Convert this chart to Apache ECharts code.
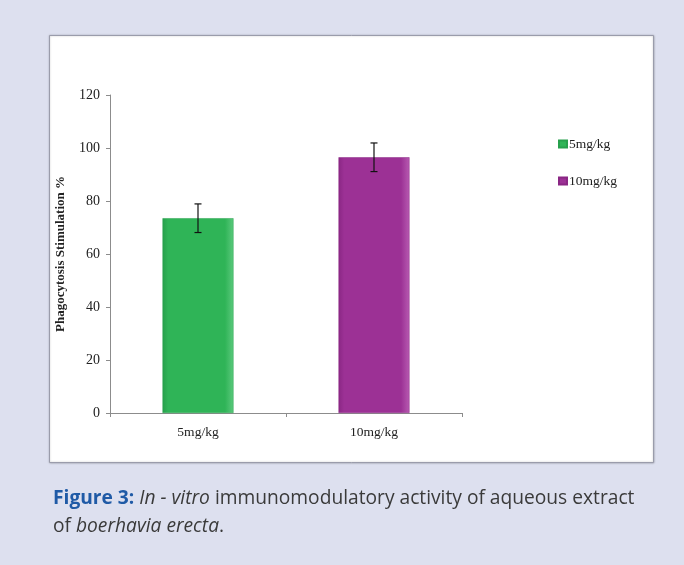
<!DOCTYPE html>
<html>
<head>
<meta charset="utf-8">
<script src="https://cdn.jsdelivr.net/npm/echarts@6/dist/echarts.min.js"></script>
<style>
  html, body { margin: 0; padding: 0; background: #dde0ef; }
  #chart { width: 684px; height: 565px; }
</style>
</head>
<body>
<div id="chart"></div>
<script>
var categories = ['5mg/kg', '10mg/kg'];
var means = [73.5, 96.5];
var errors = [5.4, 5.4];
var yTicks = { min: 0, max: 120, interval: 20 };

var barColors = [
  { edge: '#27a04c', main: '#2fb457', light: '#5cc97d' },
  { edge: '#8a2784', main: '#9c3195', light: '#b75bb1' }
];

var chart = echarts.init(document.getElementById('chart'));

var serif = '"Liberation Serif", "DejaVu Serif", serif';
var sans = '"Open Sans", "Noto Sans", sans-serif';

var option = {
  backgroundColor: '#dde0ef',
  animation: false,
  graphic: [
    {
      type: 'rect',
      z: -10,
      shape: { x: 49.5, y: 35.5, width: 604, height: 427 },
      style: {
        fill: '#ffffff', stroke: '#9a9cab', lineWidth: 1,
        shadowColor: 'rgba(0,0,0,0.25)', shadowBlur: 2, shadowOffsetX: 0, shadowOffsetY: 0
      }
    },
    {
      type: 'text',
      left: 53,
      top: 485,
      style: {
        text: '{b|Figure 3:} {i|In - vitro} immunomodulatory activity of aqueous extract\nof {i|boerhavia erecta}.',
        font: '19.2px ' + sans,
        fill: '#3a3a3a',
        lineHeight: 28,
        rich: {
          b: { fontWeight: 'bold', fill: '#1f5aa6', fontSize: 19.2, fontFamily: sans },
          i: { fontStyle: 'italic', fill: '#3a3a3a', fontSize: 19.2, fontFamily: sans }
        }
      }
    }
  ],
  legend: {
    orient: 'vertical',
    left: 553,
    top: 132,
    itemWidth: 8,
    itemHeight: 7,
    itemGap: 23,
    icon: 'rect',
    textStyle: { fontFamily: serif, fontSize: 13.5, color: '#222', padding: [0, 0, 0, -3] },
    data: categories
  },
  grid: { left: 110, right: 222, top: 95, bottom: 152 },
  xAxis: {
    type: 'category',
    data: categories,
    axisLine: { lineStyle: { color: '#8c8c8c', width: 1 } },
    axisTick: { show: true, length: 4, lineStyle: { color: '#8c8c8c' } },
    axisLabel: { fontFamily: serif, fontSize: 13.5, color: '#222', margin: 12 }
  },
  yAxis: {
    type: 'value',
    min: yTicks.min,
    max: yTicks.max,
    interval: yTicks.interval,
    name: 'Phagocytosis Stimulation %',
    nameLocation: 'middle',
    nameGap: 43,
    nameTextStyle: { fontFamily: serif, fontSize: 13, fontWeight: 'bold', color: '#222' },
    axisLine: { show: true, lineStyle: { color: '#8c8c8c', width: 1 } },
    axisTick: { show: true, length: 4, lineStyle: { color: '#8c8c8c' } },
    splitLine: { show: false },
    axisLabel: { fontFamily: serif, fontSize: 14, color: '#222', margin: 10 }
  },
  series: categories.map(function (name, i) {
    var data = categories.map(function (c, j) { return j === i ? means[j] : '-'; });
    var c = barColors[i];
    return {
      name: name,
      type: 'bar',
      stack: 'all',
      barWidth: 71,
      data: data,
      itemStyle: {
        color: new echarts.graphic.LinearGradient(0, 0, 1, 0, [
          { offset: 0, color: c.edge },
          { offset: 0.08, color: c.main },
          { offset: 0.88, color: c.main },
          { offset: 1, color: c.light }
        ]),
        borderColor: c.edge,
        borderWidth: 0.5
      }
    };
  }).concat([
    {
      type: 'custom',
      name: 'error',
      z: 10,
      data: means.map(function (m, i) { return [i, m - errors[i], m + errors[i]]; }),
      renderItem: function (params, api) {
        var x = api.value(0);
        var lo = api.coord([x, api.value(1)]);
        var hi = api.coord([x, api.value(2)]);
        var cap = 3.5;
        var st = { stroke: '#111', lineWidth: 1.2 };
        return {
          type: 'group',
          children: [
            { type: 'line', shape: { x1: lo[0], y1: lo[1], x2: hi[0], y2: hi[1] }, style: st },
            { type: 'line', shape: { x1: lo[0] - cap, y1: lo[1], x2: lo[0] + cap, y2: lo[1] }, style: st },
            { type: 'line', shape: { x1: hi[0] - cap, y1: hi[1], x2: hi[0] + cap, y2: hi[1] }, style: st }
          ]
        };
      }
    }
  ])
};

chart.setOption(option);
</script>
</body>
</html>
